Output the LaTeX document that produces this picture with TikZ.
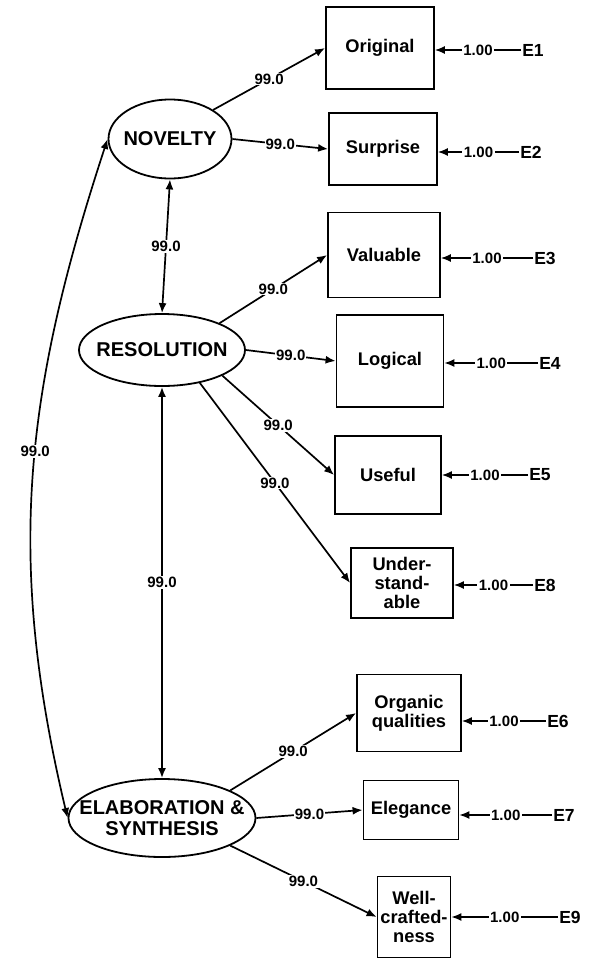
\documentclass[tikz,border=0pt]{standalone}
\usepackage{fontspec}
\setmainfont{Liberation Sans}
\usetikzlibrary{arrows.meta,shapes.geometric}
\begin{document}
\begin{tikzpicture}[x=1pt,y=-1pt,
 lat/.style={ellipse,draw,line width=1.8pt,inner sep=0pt},
 lattxt/.style={align=center,inner sep=0pt,font=\bfseries\fontsize{20}{21}\selectfont},
 obs/.style={rectangle,draw,line width=1.8pt,inner sep=0pt,align=center,font=\bfseries\fontsize{18.3}{19}\selectfont},
 errn/.style={inner sep=1pt,font=\bfseries\fontsize{17.5}{18}\selectfont},
 arr/.style={line width=1.7pt,-{Latex[length=10pt,width=8pt]}},
 cov/.style={line width=1.7pt,{Latex[length=10pt,width=8pt]}-{Latex[length=10pt,width=8pt]}},
 lbl/.style={fill=white,inner sep=1pt,font=\bfseries\fontsize{15}{15}\selectfont},
 elbl/.style={fill=white,inner sep=1.5pt,font=\bfseries\fontsize{15}{15}\selectfont},
 earr/.style={line width=1.5pt,-{Latex[length=10pt,width=8pt]}}]
\useasboundingbox (0,0) rectangle (591,959);
% latent variables
\node[lat,minimum width=123pt,minimum height=79pt,label={[lattxt]center:NOVELTY}] (nov) at (170,139) {};
\node[lat,minimum width=166pt,minimum height=72pt,label={[lattxt]center:RESOLUTION}] (res) at (162,350) {};
\node[lat,minimum width=187pt,minimum height=78pt,label={[lattxt]center:ELABORATION \&\\SYNTHESIS}] (elab) at (162,818) {};
% observed variables
\node[obs,minimum width=108pt,minimum height=82pt] (orig) at (380,48) {Original};
\node[obs,minimum width=108pt,minimum height=72pt] (surp) at (383,149) {Surprise};
\node[obs,minimum width=112pt,minimum height=85pt] (val) at (384,255) {Valuable};
\node[obs,minimum width=107pt,minimum height=92pt] (logi) at (390,361) {Logical};
\node[obs,minimum width=106pt,minimum height=78pt] (usef) at (388,475) {Useful};
\node[obs,minimum width=102pt,minimum height=70pt] (und) at (402,583) {Under-\\stand-\\able};
\node[obs,minimum width=104pt,minimum height=77pt] (org) at (409,713) {Organic\\qualities};
\node[obs,minimum width=95pt,minimum height=59pt] (eleg) at (411,810) {Elegance};
\node[obs,minimum width=73pt,minimum height=81pt] (well) at (414,917) {Well-\\crafted-\\ness};
% errors
\node[errn] (e1) at (533,50) {E1};
\node[errn] (e2) at (531,152) {E2};
\node[errn] (e3) at (545,258) {E3};
\node[errn] (e4) at (550,363) {E4};
\node[errn] (e5) at (540,475) {E5};
\node[errn] (e8) at (545,585) {E8};
\node[errn] (e6) at (558,721) {E6};
\node[errn] (e7) at (564,815) {E7};
\node[errn] (e9) at (570,917) {E9};
% loadings
\draw[arr] (nov.34) -- node[lbl]{99.0} (orig.west);
\draw[arr] (nov.east) -- node[lbl]{99.0} (surp.west);
\draw[arr] (res.25) -- node[lbl]{99.0} (val.west);
\draw[arr] (res.east) -- node[lbl]{99.0} (logi.west);
\draw[arr] (res.-23) -- node[lbl]{99.0} (usef.west);
\draw[arr] (res.-41) -- node[lbl]{99.0} (und.west);
\draw[arr] (elab.22) -- node[lbl]{99.0} (org.west);
\draw[arr] (elab.east) -- node[lbl]{99.0} (eleg.west);
\draw[arr] (elab.-22) -- node[lbl]{99.0} (well.west);
% covariances
\draw[cov] (nov.south) -- node[lbl]{99.0} (res.north);
\draw[cov] (res.south) -- node[lbl]{99.0} (elab.north);
\draw[cov] (nov.west) .. controls (24,394) and (6,559) .. node[lbl,pos=0.46]{99.0} (elab.west);
% errors
\draw[earr] (e1) -- node[elbl]{1.00} (orig.east |- e1);
\draw[earr] (e2) -- node[elbl]{1.00} (surp.east |- e2);
\draw[earr] (e3) -- node[elbl]{1.00} (val.east |- e3);
\draw[earr] (e4) -- node[elbl]{1.00} (logi.east |- e4);
\draw[earr] (e5) -- node[elbl]{1.00} (usef.east |- e5);
\draw[earr] (e8) -- node[elbl]{1.00} (und.east |- e8);
\draw[earr] (e6) -- node[elbl]{1.00} (org.east |- e6);
\draw[earr] (e7) -- node[elbl]{1.00} (eleg.east |- e7);
\draw[earr] (e9) -- node[elbl]{1.00} (well.east |- e9);
\end{tikzpicture}
\end{document}
